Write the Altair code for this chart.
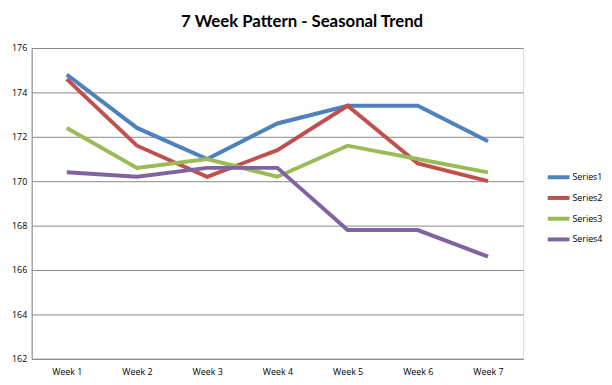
import altair as alt
import pandas as pd

weeks = ["Week 1", "Week 2", "Week 3", "Week 4", "Week 5", "Week 6", "Week 7"]
series_names = ["Series1", "Series2", "Series3", "Series4"]
series1 = [174.8, 172.4, 171.0, 172.6, 173.4, 173.4, 171.8]
series2 = [174.6, 171.6, 170.2, 171.4, 173.4, 170.8, 170.0]
series3 = [172.4, 170.6, 171.0, 170.2, 171.6, 171.0, 170.4]
series4 = [170.4, 170.2, 170.6, 170.6, 167.8, 167.8, 166.6]
colors = ["#4F81BD", "#C0504D", "#9BBB59", "#8064A2"]

rows = []
for name, vals in zip(series_names, [series1, series2, series3, series4]):
    for w, v in zip(weeks, vals):
        rows.append({"week": w, "value": v, "series": name})
df = pd.DataFrame(rows)

font = "Open Sans"

chart = alt.Chart(df).mark_line(strokeWidth=4, strokeJoin="miter").encode(
    x=alt.X("week:N", sort=weeks, title=None,
            scale=alt.Scale(type="point", padding=0.5),
            axis=alt.Axis(labelAngle=0, ticks=False, domain=True, domainColor="#888888",
                          labelFontSize=9, labelColor="#000000", labelFont=font, labelPadding=9, grid=False)),
    y=alt.Y("value:Q", title=None,
            scale=alt.Scale(domain=[162, 176], nice=False, zero=False),
            axis=alt.Axis(values=[162, 164, 166, 168, 170, 172, 174, 176], ticks=False,
                          domainColor="#888888", gridColor="#888888", gridWidth=1,
                          labelFontSize=9, labelColor="#000000", labelFont=font, labelPadding=5)),
    color=alt.Color("series:N", sort=series_names,
                    scale=alt.Scale(domain=series_names, range=colors),
                    legend=alt.Legend(title=None, orient="none", legendX=521, legendY=118,
                                      symbolType="stroke", symbolSize=484, symbolStrokeWidth=4,
                                      labelFontSize=9, labelFont=font, labelOffset=1,
                                      rowPadding=-9)),
).properties(
    width=498, height=315,
    title=alt.TitleParams("7 Week Pattern - Seasonal Trend", fontSize=17, font="Lato",
                          fontWeight="bold", color="#000000", offset=13, anchor="middle", dx=25),
    padding={"left": 24, "top": 38, "right": 82, "bottom": 24},
    autosize=alt.AutoSizeParams(type="none"),
).configure_view(stroke=None).configure(background="#ffffff")

chart.save("out.html", embed_options={"renderer": "svg", "actions": False})
